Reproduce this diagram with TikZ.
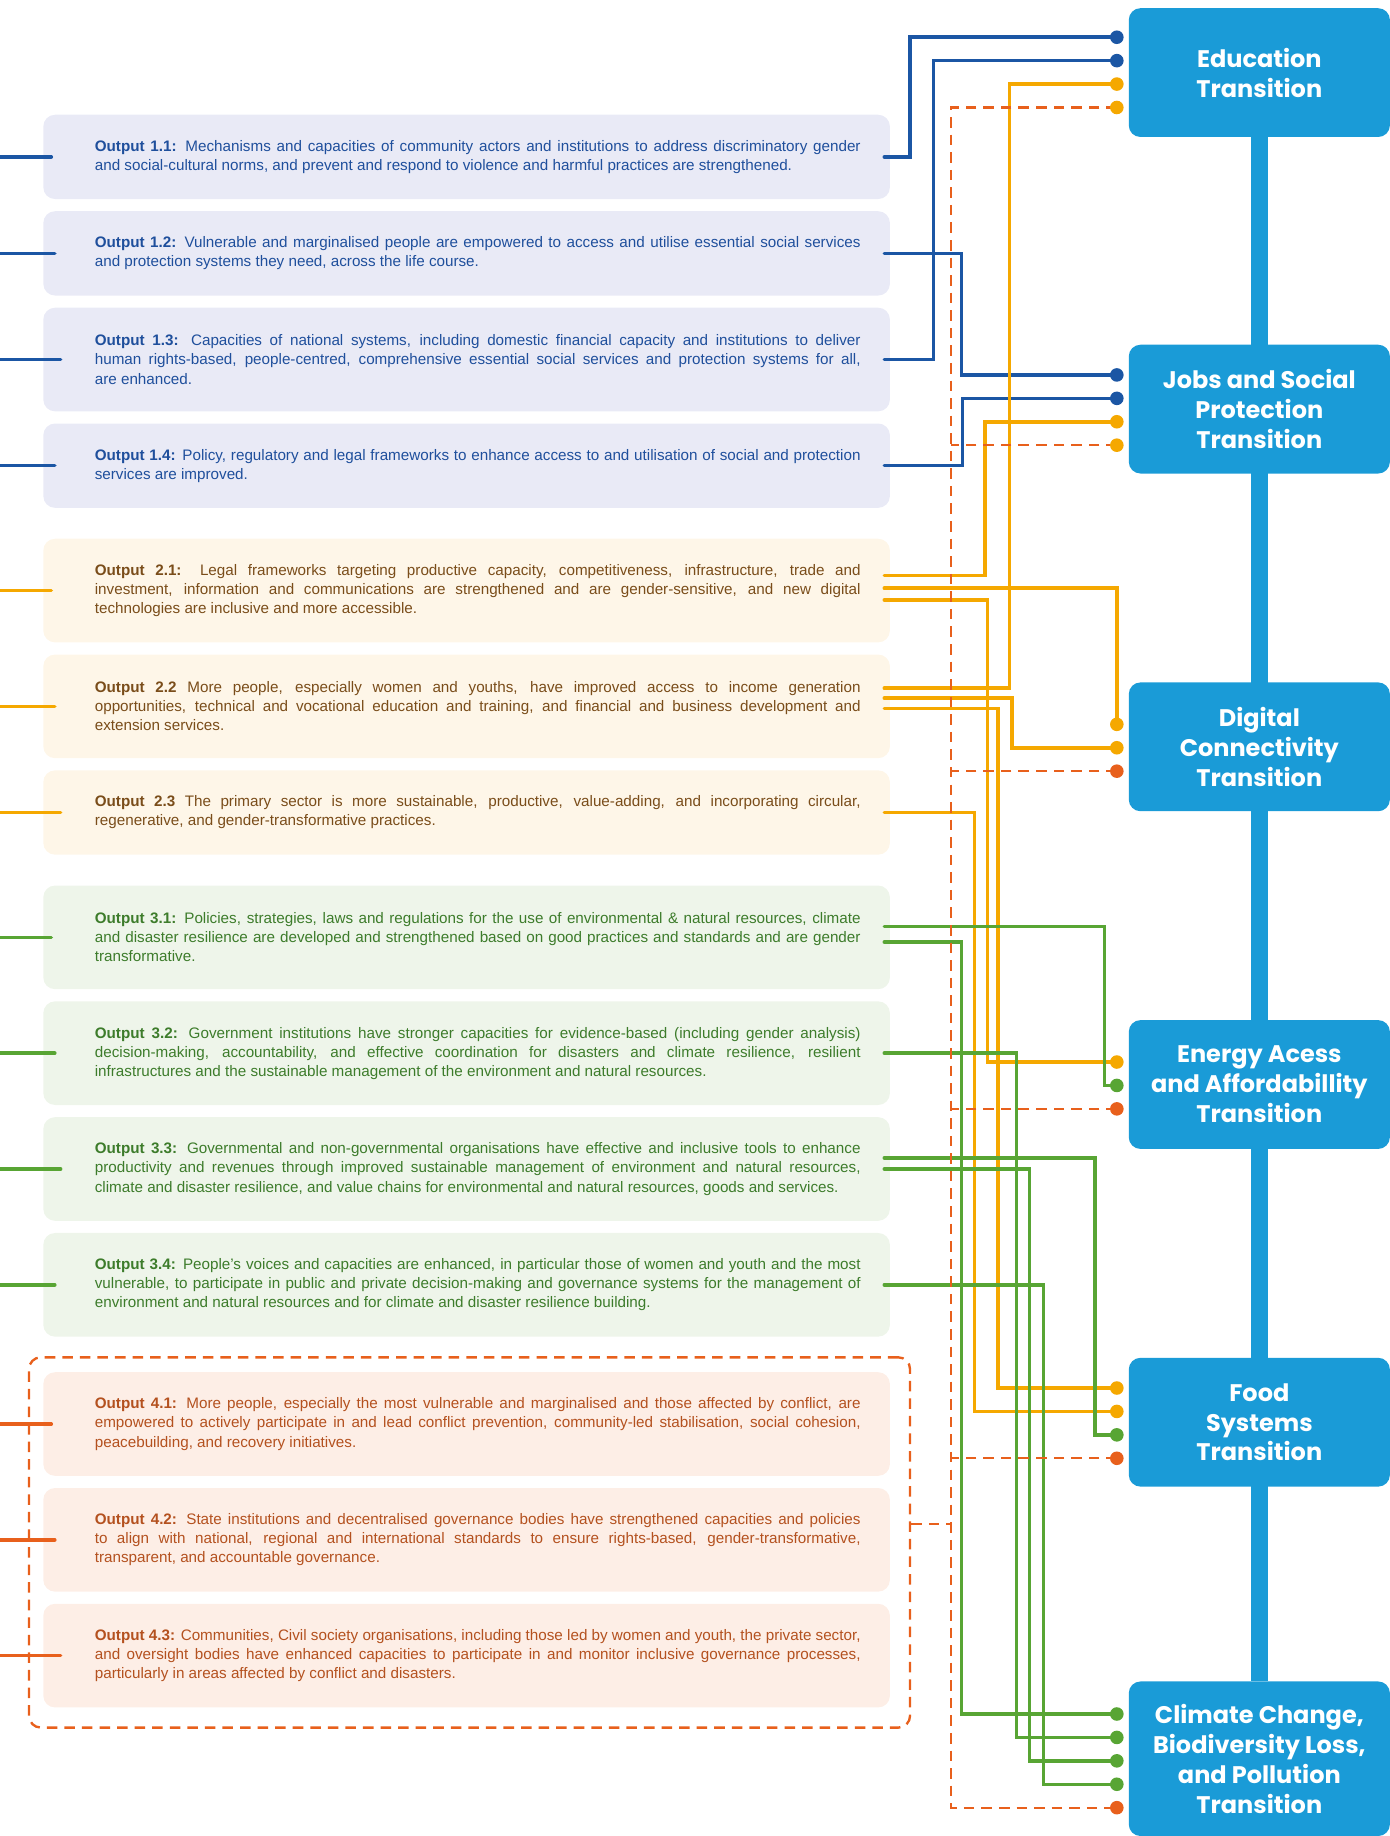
\documentclass[tikz,border=0pt]{standalone}
\usepackage{fontspec}
\setmainfont{Liberation Sans}
\newfontfamily\transfont{Poppins}
\usetikzlibrary{positioning, fit, backgrounds}

\definecolor{tblue}{HTML}{1A9BD7}
\definecolor{lblue}{HTML}{1B56A4}
\definecolor{lyellow}{HTML}{F5A800}
\definecolor{lgreen}{HTML}{58A534}
\definecolor{lorange}{HTML}{E8601C}
\definecolor{bgblue}{HTML}{E9EAF6}
\definecolor{bgyellow}{HTML}{FEF6E8}
\definecolor{bggreen}{HTML}{EEF5EA}
\definecolor{bgorange}{HTML}{FDEEE6}
\definecolor{txblue}{HTML}{1F4F9C}
\definecolor{txyellow}{HTML}{7A4D1A}
\definecolor{txgreen}{HTML}{3D7C2B}
\definecolor{txorange}{HTML}{B4511F}

\begin{document}
\begin{tikzpicture}[
  x=1pt, y=1pt,
  node distance=10pt,
  outbox/.style={rounded corners=10pt, text width=673pt, inner xsep=25pt, inner ysep=3pt,
    minimum height=72pt, align=justify, font=\fontsize{13}{16.3}\selectfont,
    execute at begin node={\leftskip=19pt\hyphenpenalty=10000\exhyphenpenalty=10000\relax}},
  tall/.style={minimum height=88.5pt},
  out1/.style={outbox, fill=bgblue, text=txblue},
  out2/.style={outbox, fill=bgyellow, text=txyellow},
  out3/.style={outbox, fill=bggreen, text=txgreen},
  out4/.style={outbox, fill=bgorange, text=txorange},
  trans/.style={fill=tblue, rounded corners=10pt, minimum width=223pt, minimum height=110pt,
    text=white, align=center, font=\transfont\bfseries\fontsize{20.5}{25.5}\selectfont},
  conn/.style={line width=3pt, line cap=round},
  bline/.style={conn, draw=lblue},
  yline/.style={conn, draw=lyellow},
  gline/.style={conn, draw=lgreen},
  oline/.style={conn, draw=lorange},
  dline/.style={draw=lorange, line width=2pt, dash pattern=on 9pt off 6pt},
  spine/.style={draw=tblue, line width=14pt}
]
  \useasboundingbox (0,0) rectangle (1187,-1568);
  \clip (0,0) rectangle (1187,-1568);

  % outputs
  \node[out1] (o11) at (398.5,-134) {\textbf{Output 1.1:} Mechanisms and capacities of community actors and institutions to address discriminatory gender\linebreak and social-cultural norms, and prevent and respond to violence and harmful practices are strengthened.};
  \node[out1, below=of o11] (o12) {\textbf{Output 1.2:} Vulnerable and marginalised people are empowered to access and utilise essential social services\linebreak and protection systems they need, across the life course.};
  \node[out1, tall, below=of o12] (o13) {\textbf{Output 1.3:} Capacities of national systems, including domestic financial capacity and institutions to deliver\linebreak human rights-based, people-centred, comprehensive essential social services and protection systems for all,\linebreak are enhanced.};
  \node[out1, below=of o13] (o14) {\textbf{Output 1.4:} Policy, regulatory and legal frameworks to enhance access to and utilisation of social and protection\linebreak services are improved.};

  \node[out2, tall, below=26pt of o14] (o21) {\textbf{Output 2.1:} Legal frameworks targeting productive capacity, competitiveness, infrastructure, trade and\linebreak investment, information and communications are strengthened and are gender-sensitive, and new digital\linebreak technologies are inclusive and more accessible.};
  \node[out2, tall, below=of o21] (o22) {\textbf{Output 2.2} More people, especially women and youths, have improved access to income generation\linebreak opportunities, technical and vocational education and training, and financial and business development and\linebreak extension services.};
  \node[out2, below=of o22] (o23) {\textbf{Output 2.3} The primary sector is more sustainable, productive, value-adding, and incorporating circular,\linebreak regenerative, and gender-transformative practices.};

  \node[out3, tall, below=26pt of o23] (o31) {\textbf{Output 3.1:} Policies, strategies, laws and regulations for the use of environmental \& natural resources, climate\linebreak and disaster resilience are developed and strengthened based on good practices and standards and are gender\linebreak transformative.};
  \node[out3, tall, below=of o31] (o32) {\textbf{Output 3.2:} Government institutions have stronger capacities for evidence-based (including gender analysis)\linebreak decision-making, accountability, and effective coordination for disasters and climate resilience, resilient\linebreak infrastructures and the sustainable management of the environment and natural resources.};
  \node[out3, tall, below=of o32] (o33) {\textbf{Output 3.3:} Governmental and non-governmental organisations have effective and inclusive tools to enhance\linebreak productivity and revenues through improved sustainable management of environment and natural resources,\linebreak climate and disaster resilience, and value chains for environmental and natural resources, goods and services.};
  \node[out3, tall, below=of o33] (o34) {\textbf{Output 3.4:} People’s voices and capacities are enhanced, in particular those of women and youth and the most\linebreak vulnerable, to participate in public and private decision-making and governance systems for the management of\linebreak environment and natural resources and for climate and disaster resilience building.};

  \node[out4, tall, below=30pt of o34] (o41) {\textbf{Output 4.1:} More people, especially the most vulnerable and marginalised and those affected by conflict, are\linebreak empowered to actively participate in and lead conflict prevention, community-led stabilisation, social cohesion,\linebreak peacebuilding, and recovery initiatives.};
  \node[out4, tall, below=of o41] (o42) {\textbf{Output 4.2:} State institutions and decentralised governance bodies have strengthened capacities and policies\linebreak to align with national, regional and international standards to ensure rights-based, gender-transformative,\linebreak transparent, and accountable governance.};
  \node[out4, tall, below=of o42] (o43) {\textbf{Output 4.3:} Communities, Civil society organisations, including those led by women and youth, the private sector,\linebreak and oversight bodies have enhanced capacities to participate in and monitor inclusive governance processes,\linebreak particularly in areas affected by conflict and disasters.};

  \coordinate (grpnw) at ([shift={(-12,12.5)}]o41.north west);
  \coordinate (grpse) at ([shift={(17,-17)}]o43.south east);
  \node[draw=lorange, line width=2pt, dash pattern=on 9pt off 6pt, rounded corners=10pt, inner sep=0pt,
    fit=(grpnw)(grpse)] (grp) {};

  % transitions
  \node[trans] (edu) at (1075.5,-62) {Education\\Transition};
  \node[trans, below=177pt of edu] (job) {Jobs and Social\\Protection\\Transition};
  \node[trans, below=178pt of job] (dig) {Digital\\Connectivity\\Transition};
  \node[trans, below=178pt of dig] (ene) {Energy Acess\\and Affordabillity\\Transition};
  \node[trans, below=178pt of ene] (foo) {Food\\Systems\\Transition};
  \node[trans, below=166pt of foo, minimum height=132pt] (cli) {Climate Change,\\Biodiversity Loss,\\and Pollution\\Transition};

  \begin{scope}[on background layer]
    \draw[spine] (edu.south) -- (cli.north);
  \end{scope}

  % dots in front of the transitions
  \coordinate (edu1) at ([shift={(-10,-25)}]edu.north west);
  \coordinate (edu2) at ([shift={(-10,-45)}]edu.north west);
  \coordinate (edu3) at ([shift={(-10,-65)}]edu.north west);
  \coordinate (edu4) at ([shift={(-10,-85)}]edu.north west);
  \coordinate (job1) at ([shift={(-10,-26)}]job.north west);
  \coordinate (job2) at ([shift={(-10,-46)}]job.north west);
  \coordinate (job3) at ([shift={(-10,-66)}]job.north west);
  \coordinate (job4) at ([shift={(-10,-86)}]job.north west);
  \coordinate (dig1) at ([shift={(-10,-36)}]dig.north west);
  \coordinate (dig2) at ([shift={(-10,-56)}]dig.north west);
  \coordinate (dig3) at ([shift={(-10,-76)}]dig.north west);
  \coordinate (ene1) at ([shift={(-10,-36)}]ene.north west);
  \coordinate (ene2) at ([shift={(-10,-56)}]ene.north west);
  \coordinate (ene3) at ([shift={(-10,-76)}]ene.north west);
  \coordinate (foo1) at ([shift={(-10,-26)}]foo.north west);
  \coordinate (foo2) at ([shift={(-10,-46)}]foo.north west);
  \coordinate (foo3) at ([shift={(-10,-66)}]foo.north west);
  \coordinate (foo4) at ([shift={(-10,-86)}]foo.north west);
  \coordinate (cli1) at ([shift={(-10,-28)}]cli.north west);
  \coordinate (cli2) at ([shift={(-10,-48)}]cli.north west);
  \coordinate (cli3) at ([shift={(-10,-68)}]cli.north west);
  \coordinate (cli4) at ([shift={(-10,-88)}]cli.north west);
  \coordinate (cli5) at ([shift={(-10,-108)}]cli.north west);
  \coordinate (trunk) at (812,0);
  \coordinate (g4) at ([yshift=16]grp.east);

  % stubs on the left
  \draw[bline] (o11.west) ++(-37,0) -- ++(44,0);
  \draw[bline] (o12.west) ++(-37,0) -- ++(47,0);
  \draw[bline] (o13.west) ++(-37,0) -- ++(52,0);
  \draw[bline] (o14.west) ++(-37,0) -- ++(47,0);
  \draw[yline] (o21.west) ++(-37,0) -- ++(44,0);
  \draw[yline] (o22.west) ++(-37,0) -- ++(47,0);
  \draw[yline] (o23.west) ++(-37,0) -- ++(52,0);
  \draw[gline] (o31.west) ++(-37,0) -- ++(44,0);
  \draw[gline] (o32.west) ++(-37,0) -- ++(47,0);
  \draw[gline] (o33.west) ++(-37,0) -- ++(52,0);
  \draw[gline] (o34.west) ++(-37,0) -- ++(47,0);
  \draw[oline] (o41.west) ++(-37,0) -- ++(44,0);
  \draw[oline] (o42.west) ++(-37,0) -- ++(47,0);
  \draw[oline] (o43.west) ++(-37,0) -- ++(52,0);

  % connectors
  \draw[bline] ([xshift=-5]o11.east) -- ++(22,0) |- (edu1);
  \draw[bline] ([xshift=-5]o12.east) -- ++(66,0) |- (job1);
  \draw[bline] ([xshift=-5]o13.east) -- ++(42,0) |- (edu2);
  \draw[bline] ([xshift=-5]o14.east) -- ++(67,0) |- (job2);

  \draw[yline] ([xshift=-5,yshift=13]o21.east) -- ++(86,0) |- (job3);
  \draw[yline] ([xshift=-5,yshift=2]o21.east) -| (dig1);
  \draw[yline] ([xshift=-5,yshift=-8]o21.east) -- ++(88,0) |- (ene1);
  \draw[yline] ([xshift=-5,yshift=15.5]o22.east) -- ++(107,0) |- (edu3);
  \draw[yline] ([xshift=-5,yshift=7]o22.east) -- ++(109,0) |- (dig2);
  \draw[yline] ([xshift=-5,yshift=-2]o22.east) -- ++(97,0) |- (foo1);
  \draw[yline] ([xshift=-5]o23.east) -- ++(77,0) |- (foo2);

  \draw[gline] ([xshift=-5,yshift=9.5]o31.east) -- ++(188,0) |- (ene2);
  \draw[gline] ([xshift=-5,yshift=-4]o31.east) -- ++(66,0) |- (cli1);
  \draw[gline] ([xshift=-5]o32.east) -- ++(113,0) |- (cli2);
  \draw[gline] ([xshift=-5,yshift=9.5]o33.east) -- ++(180,0) |- (foo3);
  \draw[gline] ([xshift=-5]o33.east) -- ++(124,0) |- (cli3);
  \draw[gline] ([xshift=-5]o34.east) -- ++(136,0) |- (cli4);

  \draw[dline] (edu4) -| (cli5 -| trunk) -- (cli5);
  \draw[dline] (job4) -- (job4 -| trunk);
  \draw[dline] (dig3) -- (dig3 -| trunk);
  \draw[dline] (ene3) -- (ene3 -| trunk);
  \draw[dline] (foo4) -- (foo4 -| trunk);
  \draw[dline] (g4) -- (g4 -| trunk);

  \foreach \d in {edu1, edu2, job1, job2} \fill[lblue] (\d) circle (5.8);
  \foreach \d in {edu3, edu4, job3, job4, dig1, dig2, ene1, foo1, foo2} \fill[lyellow] (\d) circle (5.8);
  \foreach \d in {ene2, foo3, cli1, cli2, cli3, cli4} \fill[lgreen] (\d) circle (5.8);
  \foreach \d in {dig3, ene3, foo4, cli5} \fill[lorange] (\d) circle (5.8);
\end{tikzpicture}
\end{document}
